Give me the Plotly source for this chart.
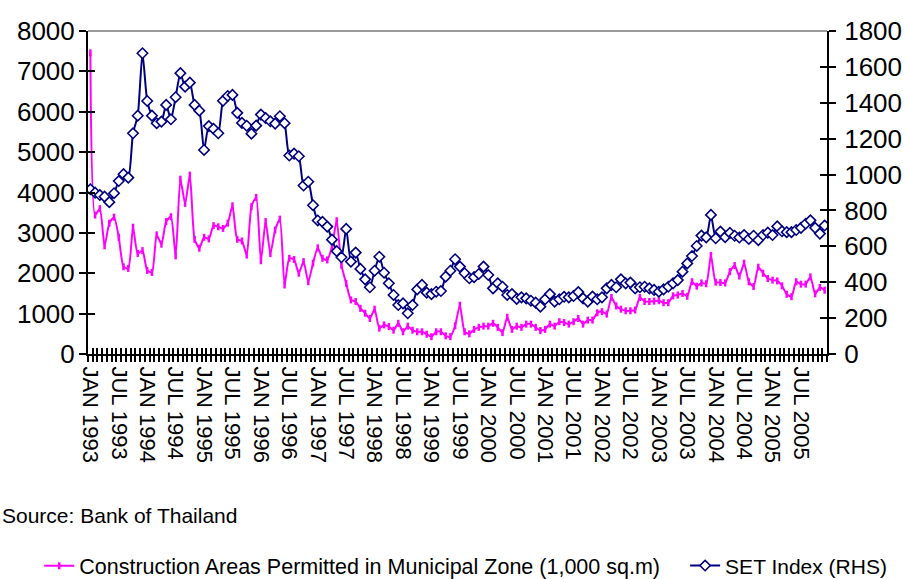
import plotly.graph_objects as go

# Monthly observations, January 1993 to December 2005 (156 months)
month_index = list(range(156))

# Construction areas permitted in municipal zone (1,000 sq.m), left axis
construction_area = [
    7460, 3440, 3600, 2680, 3240, 3390, 2890, 2160, 2120, 3140, 2490, 2560,
    2070, 2020, 2950, 2720, 3280, 3400, 2430, 4330, 3730, 4430, 2840, 2620,
    2890, 2850, 3180, 3150, 3110, 3240, 3670, 2840, 2800, 2450, 3650, 3880,
    2310, 3280, 2490, 3070, 3340, 1710, 2370, 2340, 2000, 2290, 1790, 2250,
    2630, 2370, 2330, 2660, 3300, 2200, 1750, 1340, 1300, 1130, 1010, 880,
    1110, 640, 720, 680, 590, 760, 550, 690, 590, 550, 550, 490,
    430, 550, 550, 450, 430, 700, 1210, 550, 500, 610, 660, 690,
    690, 760, 660, 530, 910, 610, 690, 660, 740, 740, 660, 580,
    610, 740, 690, 800, 780, 740, 800, 880, 740, 840, 840, 1020,
    1050, 990, 1400, 1190, 1110, 1070, 1070, 1090, 1400, 1300, 1300, 1310,
    1320, 1270, 1270, 1440, 1460, 1500, 1430, 1790, 1680, 1760, 1740, 2440,
    1780, 1770, 1760, 2040, 2190, 1930, 2250, 1790, 1670, 2150, 2000, 1870,
    1830, 1810, 1690, 1480, 1420, 1790, 1730, 1730, 1910, 1490, 1650, 1580,
]

# SET Index, right axis
set_index = [
    918, 899, 886, 877, 846, 896, 964, 1002, 983, 1230, 1328, 1676,
    1410, 1328, 1286, 1295, 1388, 1308, 1431, 1565, 1490, 1512, 1388, 1356,
    1137, 1270, 1255, 1230, 1411, 1438, 1444, 1344, 1288, 1272, 1228, 1273,
    1334, 1315, 1297, 1284, 1325, 1286, 1106, 1117, 1102, 939, 960, 829,
    744, 736, 710, 637, 573, 539, 697, 515, 565, 474, 416, 372,
    464, 542, 453, 394, 329, 273, 282, 227, 273, 360, 385, 342,
    334, 347, 351, 431, 464, 528, 487, 450, 422, 428, 446, 487,
    440, 366, 394, 375, 329, 334, 307, 316, 310, 297, 286, 264,
    305, 334, 292, 305, 319, 316, 323, 345, 310, 292, 320, 305,
    316, 366, 385, 372, 416, 394, 398, 366, 372, 375, 366, 357,
    347, 360, 375, 394, 412, 459, 505, 546, 602, 660, 650, 775,
    645, 682, 651, 675, 659, 649, 663, 641, 659, 635, 663, 676,
    663, 711, 684, 679, 679, 691, 703, 726, 745, 703, 671, 716,
]

# Half-yearly category labels
label_positions = [0, 6, 12, 18, 24, 30, 36, 42, 48, 54, 60, 66, 72,
                   78, 84, 90, 96, 102, 108, 114, 120, 126, 132, 138, 144, 150]
label_text = [
    "JAN 1993", "JUL 1993", "JAN 1994", "JUL 1994", "JAN 1995", "JUL 1995",
    "JAN 1996", "JUL 1996", "JAN 1997", "JUL 1997", "JAN 1998", "JUL 1998",
    "JAN 1999", "JUL 1999", "JAN 2000", "JUL 2000", "JAN 2001", "JUL 2001",
    "JAN 2002", "JUL 2002", "JAN 2003", "JUL 2003", "JAN 2004", "JUL 2004",
    "JAN 2005", "JUL 2005",
]

left_ticks = [0, 1000, 2000, 3000, 4000, 5000, 6000, 7000, 8000]
right_ticks = [0, 200, 400, 600, 800, 1000, 1200, 1400, 1600, 1800]

# tick marks sit on the boundaries between monthly categories
boundaries = [m - 0.5 for m in month_index] + [month_index[-1] + 0.5]
x_range = [boundaries[0], boundaries[-1]]

MAGENTA = "#FF00FF"
NAVY = "#000080"
FONT = "Liberation Sans, Arial, sans-serif"

fig = go.Figure()

fig.add_trace(go.Scatter(
    x=month_index, y=construction_area, xaxis="x", yaxis="y",
    name="Construction Areas Permitted in Municipal Zone (1,000 sq.m)",
    mode="lines+markers", legend="legend",
    line=dict(color=MAGENTA, width=2, shape="spline", smoothing=0.6),
    marker=dict(symbol="line-ns", size=5, line=dict(color=MAGENTA, width=2.5)),
))

fig.add_trace(go.Scatter(
    x=month_index, y=set_index, xaxis="x", yaxis="y2",
    name="SET Index (RHS)",
    mode="lines+markers", legend="legend2",
    line=dict(color=NAVY, width=2, shape="spline", smoothing=0.6),
    marker=dict(symbol="diamond", size=8, color="white",
                line=dict(color=NAVY, width=1.6)),
))

# companion axes carrying the labels and the inward half of the tick marks
fig.add_trace(go.Scatter(x=[], y=[], xaxis="x2", yaxis="y3", showlegend=False,
                         hoverinfo="skip"))
fig.add_trace(go.Scatter(x=[], y=[], xaxis="x3", yaxis="y4", showlegend=False,
                         hoverinfo="skip"))

axis_line = dict(showline=True, linecolor="black", linewidth=2,
                 showgrid=False, zeroline=False)

legend_common = dict(orientation="h", xanchor="left", yanchor="middle",
                     bgcolor="rgba(0,0,0,0)", itemwidth=30)

fig.update_layout(
    width=905, height=579,
    margin=dict(l=88, r=78, t=31, b=225, autoexpand=False),
    paper_bgcolor="white", plot_bgcolor="white",
    font=dict(family=FONT, color="black"),
    xaxis=dict(range=x_range, tickmode="array", tickvals=boundaries,
               ticks="outside", ticklen=6, tickwidth=1.5, tickcolor="black",
               showticklabels=False, anchor="y", **axis_line),
    xaxis2=dict(range=x_range, overlaying="x", anchor="y", side="bottom",
                tickmode="array", tickvals=label_positions, ticktext=label_text,
                ticks="outside", ticklen=7, tickcolor="rgba(0,0,0,0)",
                tickangle=90, tickfont=dict(size=22, family=FONT),
                showline=False, showgrid=False, zeroline=False),
    xaxis3=dict(range=x_range, overlaying="x", anchor="y", side="bottom",
                tickmode="array", tickvals=boundaries,
                ticks="inside", ticklen=6, tickwidth=1.5, tickcolor="black",
                showticklabels=False, showline=False, showgrid=False,
                zeroline=False),
    yaxis=dict(range=[0, 8000], tickmode="array", tickvals=left_ticks,
               ticks="outside", ticklen=7, tickwidth=2, tickcolor="black",
               tickfont=dict(size=26, family=FONT), ticklabelstandoff=-1,
               anchor="x", side="left", **axis_line),
    yaxis2=dict(range=[0, 1800], tickmode="array", tickvals=right_ticks,
                ticks="outside", ticklen=7, tickwidth=2, tickcolor="black",
                tickfont=dict(size=26, family=FONT), ticklabelstandoff=3,
                overlaying="y", anchor="x", side="right", **axis_line),
    yaxis3=dict(range=[0, 8000], tickmode="array", tickvals=left_ticks,
                ticks="inside", ticklen=7, tickwidth=2, tickcolor="black",
                showticklabels=False, overlaying="y", anchor="x2", side="left",
                showline=False, showgrid=False, zeroline=False),
    yaxis4=dict(range=[0, 1800], tickmode="array", tickvals=right_ticks,
                ticks="inside", ticklen=7, tickwidth=2, tickcolor="black",
                showticklabels=False, overlaying="y", anchor="x3", side="right",
                showline=False, showgrid=False, zeroline=False),
    showlegend=True,
    legend=dict(x=-0.066, y=-0.656, font=dict(size=21.5, family=FONT),
                **legend_common),
    legend2=dict(x=0.808, y=-0.656, font=dict(size=21, family=FONT),
                 **legend_common),
)

# grey frame edge along the top of the plotting area
fig.add_shape(type="line", xref="paper", yref="paper", x0=0, x1=1, y0=1, y1=1,
              line=dict(color="#9a9a9a", width=2))

fig.add_annotation(text="Source: Bank of Thailand", xref="paper", yref="paper",
                   x=-0.119, y=-0.5015, xanchor="left", yanchor="middle",
                   showarrow=False, font=dict(size=21, family=FONT))

fig.write_html("out.html")
